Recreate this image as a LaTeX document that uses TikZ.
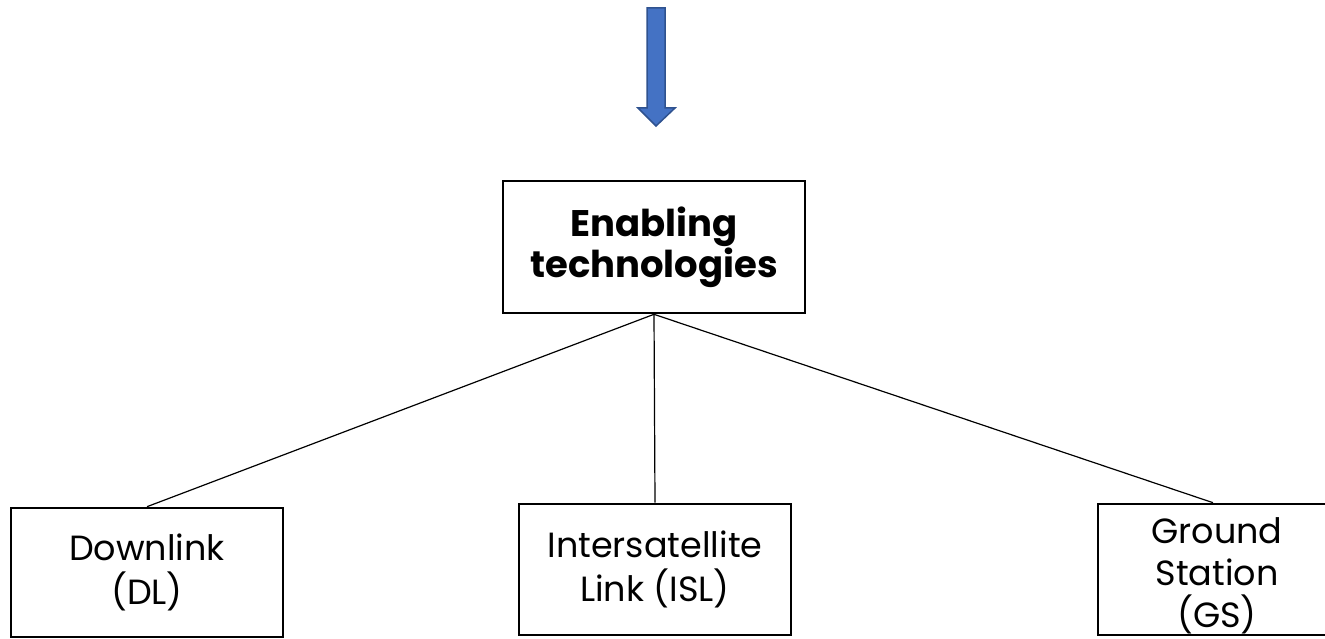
\documentclass[tikz,border=0pt]{standalone}
\usepackage{fontspec}
\setmainfont{Poppins}
\definecolor{arrowfill}{HTML}{4472C4}
\definecolor{arrowline}{HTML}{2F528F}
\begin{document}
\begin{tikzpicture}[x=1pt,y=1pt,
  box/.style={draw=black, line width=2.6pt, fill=white, rectangle, inner sep=0pt, align=center,
    font=\fontsize{35}{44}\selectfont},
  conn/.style={draw=black, line width=1.2pt}]
\useasboundingbox (0,0) rectangle (1325,638);
\clip (0,0) rectangle (1325,638);
% arrow
\filldraw[fill=arrowfill, draw=arrowline, line width=1.5pt, line join=miter]
  (647,630) -- (665,630) -- (665,530) -- (675,530) -- (656,512) -- (638,530) -- (647,530) -- cycle;
% nodes
\node[box, minimum width=302pt, minimum height=132pt, font=\bfseries\fontsize{37}{41}\selectfont] (top) at (654,391) {Enabling\\technologies};
\node[box, minimum width=272pt, minimum height=129pt] (dl) at (147,65.5) {Downlink\\(DL)};
\node[box, minimum width=272pt, minimum height=131pt] (isl) at (655,68.5) {Intersatellite\\Link (ISL)};
\node[box, minimum width=238pt, minimum height=131pt] (gs) at (1217,68.5) {};
\node[align=center, inner sep=0pt, font=\fontsize{35}{42}\selectfont] (gstext) at (1217,62) {Ground\\Station\\(GS)};
% connectors
\draw[conn] (top.south) -- (dl.north);
\draw[conn] (top.south) -- (isl.north);
\draw[conn] (top.south) -- ([xshift=-4pt]gs.north);
\end{tikzpicture}
\end{document}
